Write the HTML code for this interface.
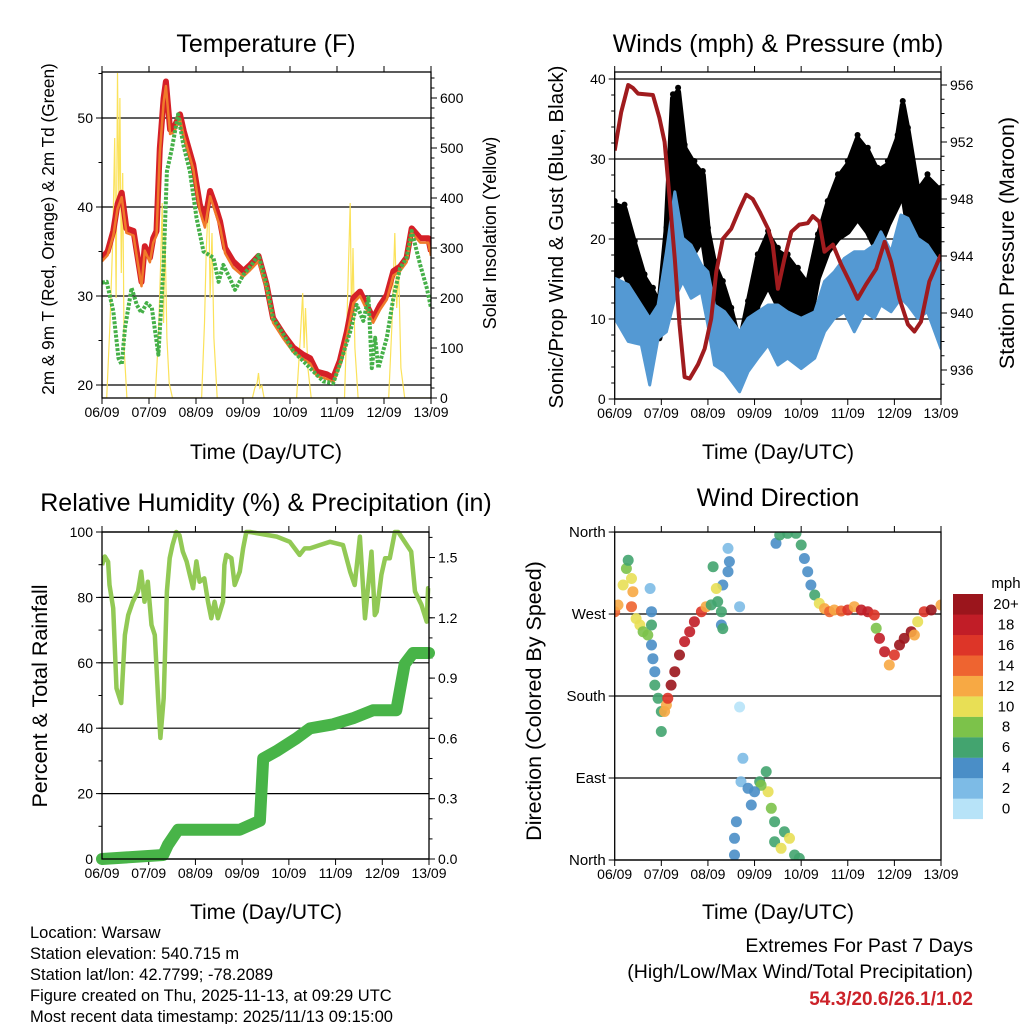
<!DOCTYPE html>
<html><head><meta charset="utf-8"><style>
html,body{margin:0;padding:0;background:#fff;}
svg{display:block;font-family:"Liberation Sans",Arial,sans-serif;}
</style></head><body>
<svg id="chart" width="1024" height="1024" viewBox="0 0 1024 1024" xmlns="http://www.w3.org/2000/svg">
<rect x="0" y="0" width="1024" height="1024" fill="#fff"/>
<text x="266" y="52" font-size="25" text-anchor="middle">Temperature (F)</text>
<text x="778" y="52" font-size="25" text-anchor="middle">Winds (mph) &amp; Pressure (mb)</text>
<text x="266" y="511" font-size="25" text-anchor="middle">Relative Humidity (%) &amp; Precipitation (in)</text>
<text x="778" y="506" font-size="25" text-anchor="middle">Wind Direction</text>
<text x="266" y="459" font-size="21" text-anchor="middle">Time (Day/UTC)</text>
<text x="778" y="459" font-size="21" text-anchor="middle">Time (Day/UTC)</text>
<text x="266" y="919" font-size="21" text-anchor="middle">Time (Day/UTC)</text>
<text x="778" y="919" font-size="21" text-anchor="middle">Time (Day/UTC)</text>
<text transform="translate(54,229) rotate(-90)" font-size="17.2" text-anchor="middle">2m &amp; 9m T (Red, Orange) &amp; 2m Td (Green)</text>
<text transform="translate(496,233) rotate(-90)" font-size="18" text-anchor="middle">Solar Insolation (Yellow)</text>
<text transform="translate(563,237) rotate(-90)" font-size="20.5" text-anchor="middle">Sonic/Prop Wind &amp; Gust (Blue, Black)</text>
<text transform="translate(1014,243) rotate(-90)" font-size="21.5" text-anchor="middle">Station Pressure (Maroon)</text>
<text transform="translate(47,696) rotate(-90)" font-size="21.5" text-anchor="middle">Percent &amp; Total Rainfall</text>
<text transform="translate(541,701) rotate(-90)" font-size="21.5" text-anchor="middle">Direction (Colored By Speed)</text>
<g font-size="16.5">
<text x="30" y="938">Location: Warsaw</text>
<text x="30" y="959">Station elevation: 540.715 m</text>
<text x="30" y="980">Station lat/lon: 42.7799; -78.2089</text>
<text x="30" y="1001">Figure created on Thu, 2025-11-13, at 09:29 UTC</text>
<text x="30" y="1022">Most recent data timestamp: 2025/11/13 09:15:00</text>
</g>
<text x="973" y="952" font-size="19.5" text-anchor="end">Extremes For Past 7 Days</text>
<text x="973" y="978" font-size="19.5" text-anchor="end">(High/Low/Max Wind/Total Precipitation)</text>
<text x="973" y="1005" font-size="19" font-weight="bold" fill="#cc2229" text-anchor="end">54.3/20.6/26.1/1.02</text>
</svg>
<script>
var NS='http://www.w3.org/2000/svg';
var svg=document.getElementById('chart');
var dayLabels=['06/09','07/09','08/09','09/09','10/09','11/09','12/09','13/09'];
// Temperature
var tDays=[0,0.12,0.24,0.33,0.42,0.52,0.67,0.76,0.84,0.91,1.02,1.09,1.16,1.23,1.31,1.36,1.45,1.53,1.66,1.74,1.94,2.08,2.19,2.30,2.40,2.51,2.62,2.79,3.01,3.15,3.33,3.50,3.64,3.86,4.07,4.28,4.43,4.57,4.78,4.92,5.06,5.21,5.35,5.49,5.63,5.77,5.92,6.06,6.20,6.34,6.48,6.59,6.77,6.94,7.0];
var tRed=[34.3,35.0,37.3,40.3,41.6,37.6,37.3,34.3,31.6,35.6,34.3,36.5,37.3,46.6,52.2,54.1,48.7,48.9,50.4,48.5,44.8,40.3,38.4,41.8,40.3,38.4,35.4,33.9,32.8,33.5,34.5,31.3,27.5,25.7,24.2,23.4,23.0,21.5,21.2,20.8,22.7,26.0,29.8,30.5,29.0,27.5,29.0,30.1,32.8,33.3,34.3,37.6,36.5,36.5,35.0];
var tOrange=[33.9,34.6,36.8,39.8,41.1,37.1,36.8,33.8,31.1,35.1,33.8,36.0,36.8,46.1,51.7,53.6,48.2,48.4,49.9,48.0,44.3,39.6,37.7,41.2,39.6,37.8,34.8,33.2,32.2,32.9,33.9,30.8,27.0,25.2,23.7,22.9,22.4,21.0,20.7,20.3,22.2,25.5,29.2,30.0,28.5,27.0,28.5,29.6,32.3,32.8,33.8,37.1,36.0,36.0,34.5];
var tdDays=[0,0.10,0.24,0.35,0.42,0.49,0.63,0.74,0.84,0.95,1.06,1.20,1.31,1.38,1.48,1.62,1.73,1.87,2.01,2.16,2.37,2.48,2.58,2.72,2.83,3.01,3.18,3.33,3.50,3.64,3.86,4.07,4.28,4.50,4.71,4.92,5.06,5.28,5.42,5.56,5.67,5.74,5.81,5.88,6.06,6.20,6.34,6.48,6.59,6.77,6.91,7.0];
var tdGreen=[31.5,31.6,28.3,23.0,22.3,26.4,30.9,29.0,28.1,29.2,28.7,23.4,33.5,44.0,46.4,50.4,47.0,44.0,38.8,35.0,34.3,31.6,33.5,32.0,30.7,32.4,33.5,34.6,31.3,27.5,25.7,23.8,22.7,21.5,20.4,20.2,22.3,26.0,29.0,27.2,29.8,21.9,25.3,21.9,25.3,29.8,33.1,34.3,37.3,33.5,30.9,28.7];
var solarDays=[0,0.10,0.17,0.23,0.27,0.30,0.33,0.36,0.38,0.41,0.44,0.47,0.53,1.13,1.20,1.25,1.28,1.31,1.34,1.38,1.43,1.50,2.12,2.18,2.22,2.27,2.30,2.34,2.38,2.45,3.20,3.25,3.30,3.33,3.36,3.40,3.45,4.14,4.22,4.27,4.30,4.33,4.38,4.45,5.16,5.22,5.28,5.31,5.34,5.38,5.45,6.10,6.17,6.23,6.27,6.31,6.36,6.44,7.0];
var solarVals=[0,0,150,320,520,200,650,380,600,250,450,100,0,0,120,280,390,150,330,120,30,0,0,150,300,400,200,330,120,0,0,20,30,50,20,25,0,0,120,210,100,180,60,0,0,180,390,150,300,100,0,0,150,330,180,260,60,0,0];
var tempTicks=[20,30,40,50];
var solarTicks=[0,100,200,300,400,500,600];
// Winds
var pDays=[0,0.14,0.29,0.39,0.5,0.82,0.96,1.07,1.18,1.29,1.39,1.5,1.61,1.79,1.93,2.07,2.18,2.32,2.5,2.68,2.82,2.96,3.11,3.29,3.39,3.5,3.64,3.79,3.96,4.14,4.25,4.39,4.5,4.68,4.86,5.07,5.21,5.39,5.61,5.79,5.93,6.11,6.29,6.43,6.57,6.75,7.0];
var pressure=[951.4,954.1,956.0,955.8,955.4,955.3,953.7,952.0,948.0,943.8,939.2,935.5,935.4,936.4,937.5,939.6,942.9,945.2,945.9,947.3,948.3,948.0,947.1,945.9,944.8,941.7,943.8,945.7,946.2,946.3,946.8,946.4,944.3,944.8,943.4,942.0,941.0,942.0,943.1,945.0,943.6,941.0,939.2,938.7,939.4,942.2,944.1,945.5];
var windDays=[0,0.29,0.57,0.75,0.93,1.11,1.29,1.46,1.64,1.86,2.0,2.14,2.36,2.68,2.86,3.07,3.29,3.5,3.71,4.0,4.29,4.5,4.71,4.93,5.14,5.36,5.57,5.71,5.93,6.14,6.29,6.5,6.71,7.0];
var windLo=[10.1,7.2,6.8,1.75,7.6,8.4,12.6,14.7,12.6,13.4,9.25,4.25,3.4,0.9,3.4,5.1,6.75,4.25,5.1,3.8,5.1,8.4,10.1,10.9,8.4,10.9,10.1,11.75,10.9,12.6,11.75,10.1,10.9,6.3];
var windHi=[15.1,14.3,11.75,10.1,11.75,18.4,25.9,20.1,19.25,16.75,15.9,11.75,10.9,8.4,10.1,10.9,11.75,11.75,10.9,10.1,10.9,14.7,15.9,17.6,18.4,18.4,19.25,20.9,18.4,23.0,22.6,20.1,19.25,16.75];
var gustDays=[0,0.21,0.43,0.64,0.82,0.96,1.11,1.25,1.36,1.5,1.71,1.89,2.0,2.14,2.32,2.5,2.68,2.86,3.07,3.29,3.5,3.71,3.93,4.14,4.36,4.57,4.79,5.0,5.21,5.43,5.64,5.86,6.07,6.18,6.29,6.5,6.71,7.0];
var gustLo=[15.1,15.9,12.6,10.1,7.6,7.6,12.6,20.9,25.1,18.9,18.4,20.1,15.9,11.75,10.1,7.2,5.1,6.75,11.75,14.25,11.75,10.9,9.25,8.4,15.1,18.4,20.1,20.9,22.6,20.9,18.4,21.75,24.25,25.9,21.75,16.75,18.4,16.75];
var gustHi=[24.25,23.8,19.25,15.1,13.4,11.75,20.9,37.6,38.4,31.3,29.25,28.0,20.9,16.75,14.25,10.9,6.75,11.75,17.6,20.5,18.4,17.6,15.9,14.25,20.1,24.25,27.6,29.25,32.5,30.9,28.4,29.25,32.5,36.75,33.4,25.9,27.6,25.9];
var windTicks=[0,10,20,30,40];
var pressTicks=[936,940,944,948,952,956];
// Humidity & precip
var rhDays=[0,0.06,0.13,0.16,0.24,0.31,0.41,0.49,0.56,0.66,0.77,0.84,0.91,0.98,1.06,1.13,1.20,1.25,1.32,1.39,1.45,1.51,1.59,1.66,1.73,1.81,1.88,1.95,2.02,2.09,2.19,2.27,2.34,2.41,2.48,2.59,2.62,2.66,2.77,2.84,2.95,3.02,3.09,3.17,3.74,4.02,4.23,4.34,4.45,4.66,4.88,5.16,5.31,5.41,5.52,5.63,5.70,5.77,5.84,5.88,5.98,6.06,6.16,6.27,6.34,6.62,6.70,6.84,6.95,6.98,7.0];
var rhVals=[89.9,92.5,90.9,83.8,76.7,52.2,47.7,68.5,74.6,78.7,81.8,87.9,78.7,84.8,71.6,68.5,49.2,37.0,49.2,81.8,92.0,96.0,100,99,94,91,86.9,82.8,91,84.8,85.8,78.7,73.6,78.7,73.6,78.7,89.9,93,92,83.8,87.9,95,100,100,98.6,97,93,95,95,96,97,96,87.9,83.8,98.6,73.6,83.8,94,74.6,75.6,86.9,92,92,100,100,94,81.8,77.7,72.6,82.8,82.8];
var prDays=[0,1.31,1.41,1.63,2.95,3.38,3.45,3.73,4.16,4.45,4.95,5.37,5.80,6.30,6.48,6.66,7.0];
var prVals=[0,0.02,0.07,0.146,0.146,0.19,0.50,0.536,0.60,0.65,0.67,0.70,0.74,0.74,0.97,1.025,1.025];
var rhTicks=[0,20,40,60,80,100];
var prTicks=['0.0','0.3','0.6','0.9','1.2','1.5'];
// Wind direction
var dirDays=[0,0.07,0.18,0.25,0.29,0.36,0.39,0.36,0.46,0.54,0.61,0.71,0.79,0.79,0.79,0.82,0.86,0.86,0.93,1.0,1.0,1.07,1.11,1.14,1.21,1.29,1.39,1.5,1.61,1.71,1.86,1.96,2.07,2.21,2.29,2.32,2.43,2.46,2.43,2.11,2.18,2.29,2.32,2.68,2.68,0.76,3.46,3.54,3.71,3.89,4.0,4.07,4.14,4.21,4.29,4.39,4.5,4.61,4.71,4.86,5.0,5.14,5.29,5.43,5.57,5.61,5.68,5.79,5.89,6.0,6.11,6.21,6.36,6.43,6.5,6.64,6.79,7.0,2.75,2.71,2.86,2.93,2.61,2.57,2.57,3.11,3.25,3.29,3.36,3.43,3.43,3.64,3.57,3.75,3.86,3.96,3.14,3.0];
var dirDeg=[272.6,279.9,301.9,320,329,309,294.5,278,265,258,250.6,247,258,272.6,236,221,206.7,192,177.5,163,141,163,170,177.5,192,206.7,225,239.7,250.6,261.6,272.6,278,280,283.6,272.6,301.9,316.5,327.5,342,322,298,258,254,278,168,298,347.6,356.7,358.6,358.6,345.8,331,316.5,301.9,290.9,281.7,276,272.6,274.4,273.3,274.4,278,274.4,272.6,268.9,254.3,243.3,228.7,214,225,236,243.3,250.6,247,261.6,272.6,274.4,279.9,111.6,86,78.7,60.4,42,23.8,5.5,86,97,75,56.7,42,20,31,12.8,23.8,5.5,1.8,82,75];
var dirSpd=[14,12,10,8,6,10,12,14,10,10,8,8,6,4,4,4,4,6,6,6,6,12,12,16,20,20,20,18,18,18,16,12,6,6,6,4,4,4,2,6,10,4,6,2,0,2,4,6,6,6,6,4,4,4,6,10,12,14,12,14,16,12,18,18,16,8,18,18,12,16,20,20,20,12,10,16,20,12,2,2,4,4,4,4,4,6,6,10,8,6,6,6,10,10,6,6,8,4];
var dirTicks=['North','East','South','West','North'];
var barLabels=['0','2','4','6','8','10','12','14','16','18','20+'];
var barColors=['#b7e3f8','#7dbbe6','#4a8ec7','#43a46f','#7cc24a','#e8df55','#f7a944','#ee6430','#dd3528','#c11d27','#9b151c'];

function mk(tag,attrs,parent){var e=document.createElementNS(NS,tag);for(var k in attrs)e.setAttribute(k,attrs[k]);(parent||svg).appendChild(e);return e;}
function line(x1,y1,x2,y2,w,c,parent){return mk('line',{x1:x1,y1:y1,x2:x2,y2:y2,stroke:c||'#000','stroke-width':w||1},parent);}
function txt(x,y,s,size,anchor,parent){var e=mk('text',{x:x,y:y,'font-size':size,'text-anchor':anchor||'middle'},parent);e.textContent=s;return e;}
function pts(xs,ys,fx,fy){var a=[];for(var i=0;i<xs.length;i++)a.push(fx(xs[i]).toFixed(1)+','+fy(ys[i]).toFixed(1));return a;}

function panel(name,x0,x1,y0,y1){
  var g=mk('g',{});
  
  
  var fx=function(d){return x0+d/7*(x1-x0);};
  var xa=mk('g',{},g);
  
  
  for(var i=0;i<8;i++){var x=fx(i);
    var t1=line(x,y1,x,y1+6,1,'#000',xa);
    
    
    var t2=line(x,y0,x,y0-6,1,'#000',xa);
    
    
    var tl=txt(x,y1+19,dayLabels[i],14,'middle',xa);
    
    
  }
  return {g:g,fx:fx,x0:x0,x1:x1,y0:y0,y1:y1};
}
function frame(p){var r=mk('rect',{x:p.x0,y:p.y0,width:p.x1-p.x0,height:p.y1-p.y0,fill:'none',stroke:'#000','stroke-width':1.3},p.g);
  
  }
function clip(id,p){var d=mk('clipPath',{id:id});var r=mk('rect',{x:p.x0,y:p.y0,width:p.x1-p.x0,height:p.y1-p.y0},d);return 'url(#'+id+')';}
function yAxis(p,vals,fy,labels,side,minorStep,lo,hi,grid,fs){
  var g=mk('g',{},p.g);
  
  
  var xe=side=='left'?p.x0:p.x1, dir=side=='left'?-1:1;
  for(var v=lo;v<=hi+1e-9;v+=minorStep){var y=fy(v);if(y<p.y0-0.5||y>p.y1+0.5)continue;
    var m=line(xe,y,xe+dir*3.5,y,1,'#000',g);
    
    }
  for(var i=0;i<vals.length;i++){var y=fy(vals[i]);
    var t=line(xe,y,xe+dir*6,y,1,'#000',g);
    
    
    if(grid){var gl=line(p.x0,y,p.x1,y,1.2,'#000',g);
      
      }
    var l=txt(xe+dir*9,y+5,labels[i],fs||14,side=='left'?'end':'start',g);
    
    
  }
}

// ===== Panel 1: Temperature =====
var p1=panel('temperature-panel',102,431,72,398);
var y1L=function(v){return 385-(v-20)*8.9;};
var y1R=function(s){return 398-s*0.5;};
var c1=clip('c1',p1);
yAxis(p1,tempTicks,y1L,tempTicks.map(String),'left',5,20,55,true);
yAxis(p1,solarTicks,y1R,solarTicks.map(String),'right',20,0,640,false);
var sol=mk('polyline',{points:pts(solarDays,solarVals,p1.fx,y1R).join(' '),fill:'none',stroke:'#fbe25a','stroke-width':1.2,'clip-path':c1},p1.g);


var tr=mk('polyline',{points:pts(tDays,tRed,p1.fx,y1L).join(' '),fill:'none',stroke:'#d52027','stroke-width':6,'stroke-linejoin':'round','clip-path':c1},p1.g);


var to=mk('polyline',{points:pts(tDays,tOrange,p1.fx,y1L).join(' '),fill:'none',stroke:'#f07a2a','stroke-width':2.5,'stroke-linejoin':'round','clip-path':c1},p1.g);


var tg=mk('polyline',{points:pts(tdDays,tdGreen,p1.fx,y1L).join(' '),fill:'none',stroke:'#45b048','stroke-width':4,'stroke-dasharray':'3 1.5','stroke-linejoin':'round','clip-path':c1},p1.g);


frame(p1);

// ===== Panel 2: Winds =====
var p2=panel('winds-panel',614.7,941,72,399);
var y2L=function(m){return 399-m*8.0;};
var y2R=function(pr){return 370-(pr-936)*14.25;};
var c2=clip('c2',p2);
yAxis(p2,windTicks,y2L,windTicks.map(String),'left',2,0,40,true);
yAxis(p2,pressTicks,y2R,pressTicks.map(String),'right',1,935,958,false);
var gb=pts(gustDays,gustHi,p2.fx,y2L).concat(pts(gustDays,gustLo,p2.fx,y2L).reverse());
var gust=mk('polygon',{points:gb.join(' '),fill:'#000',stroke:'#000','stroke-width':6,'stroke-linejoin':'round','clip-path':c2},p2.g);


for(var i=0;i<gustDays.length;i++){
  var gd=mk('circle',{cx:p2.fx(gustDays[i]),cy:y2L(gustHi[i])-4,r:3,fill:'#000','clip-path':c2},p2.g);
  
  
}
var wb=pts(windDays,windHi,p2.fx,y2L).concat(pts(windDays,windLo,p2.fx,y2L).reverse());
var wind=mk('polygon',{points:wb.join(' '),fill:'#5499d3',stroke:'#5499d3','stroke-width':3,'stroke-linejoin':'round','clip-path':c2},p2.g);


var pl=mk('polyline',{points:pts(pDays,pressure,p2.fx,y2R).join(' '),fill:'none',stroke:'#a01b1e','stroke-width':4,'stroke-linejoin':'round','clip-path':c2},p2.g);


frame(p2);

// ===== Panel 3: Humidity =====
var p3=panel('humidity-panel',102,429,532,859);
var y3L=function(v){return 859-v*3.27;};
var y3R=function(v){return 859-v*201;};
var c3=clip('c3',{x0:102,x1:437,y0:520,y1:870});
yAxis(p3,rhTicks,y3L,rhTicks.map(String),'left',10,0,100,true);
yAxis(p3,prTicks.map(Number),y3R,prTicks,'right',0.1,0,1.6,false);
var rh=mk('polyline',{points:pts(rhDays,rhVals,p3.fx,y3L).join(' '),fill:'none',stroke:'#92c955','stroke-width':4.5,'stroke-linejoin':'round','clip-path':c3},p3.g);


var pr=mk('polyline',{points:pts(prDays,prVals,p3.fx,y3R).join(' '),fill:'none',stroke:'#48b448','stroke-width':12,'stroke-linejoin':'round','stroke-linecap':'round'},p3.g);


frame(p3);

// ===== Panel 4: Wind direction =====
var p4=panel('wind-direction-panel',614.7,941,532,860);
var y4=function(d){return 860-d*0.911;};
var c4=clip('c4',p4);
yAxis(p4,[0,90,180,270,360],y4,dirTicks,'left',90,0,360,true,15);
function spdColor(s){var i=Math.min(10,Math.max(0,Math.round(s/2)));return barColors[i];}
for(var i=0;i<dirDays.length;i++){
  var c=mk('circle',{cx:p4.fx(dirDays[i]).toFixed(1),cy:y4(dirDeg[i]).toFixed(1),r:5.5,fill:spdColor(dirSpd[i]),'fill-opacity':0.9,'clip-path':c4},p4.g);
  
  
}
frame(p4);

// ===== Color bar =====
var cb=mk('g',{});


var mph=txt(1006,588,'mph',15,'middle',cb);


for(var i=0;i<barColors.length;i++){
  var yy=594+(10-i)*20.45;
  var r=mk('rect',{x:953,y:yy,width:30,height:20.6,fill:barColors[i]},cb);
  
  
  var l=txt(1006,yy+15,barLabels[i],15,'middle',cb);
  
  
}
</script>
</body></html>
